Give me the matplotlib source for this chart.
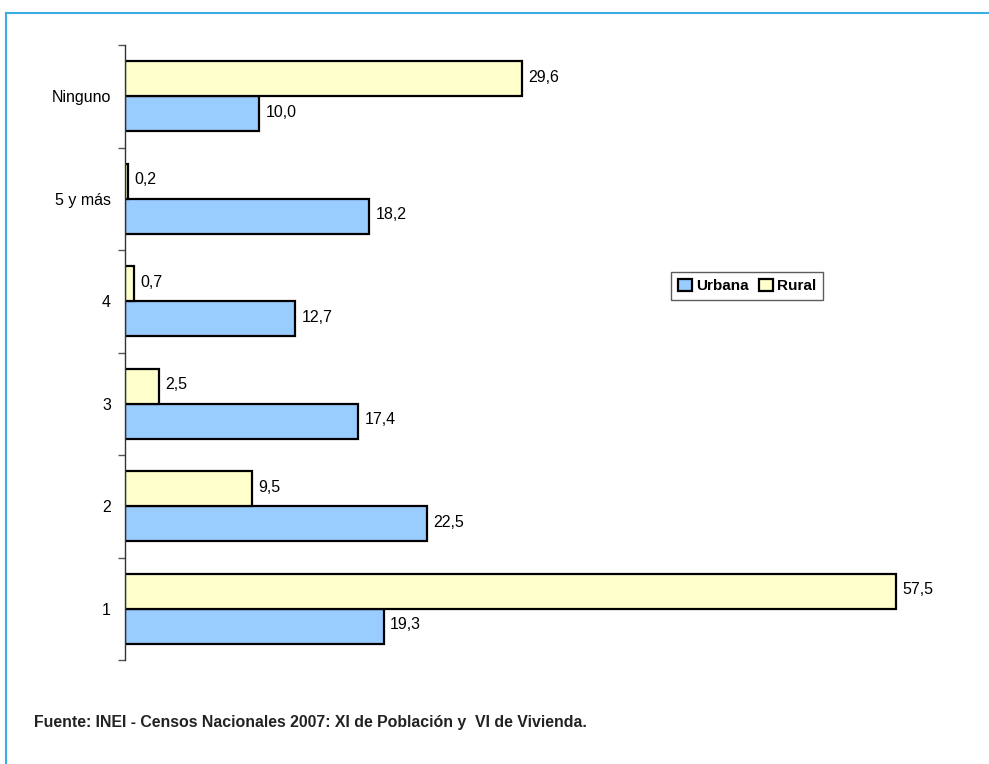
import matplotlib
matplotlib.use("Agg")
import matplotlib.pyplot as plt
import numpy as np
from matplotlib.lines import Line2D
from matplotlib.patches import Patch

# categories from bottom to top
categories = ["1", "2", "3", "4", "5 y más", "Ninguno"]
urbana = [19.3, 22.5, 17.4, 12.7, 18.2, 10.0]
rural = [57.5, 9.5, 2.5, 0.7, 0.2, 29.6]
source_note = "Fuente: INEI - Censos Nacionales 2007: XI de Población y  VI de Vivienda."

URBAN_COLOR = "#99CCFF"
RURAL_COLOR = "#FFFFCC"
BORDER_COLOR = "#3AAEE3"

plt.rcParams["font.family"] = ["Liberation Sans", "DejaVu Sans"]

fig = plt.figure(figsize=(9.89, 7.64), dpi=100)
ax = fig.add_axes([0.1264, 0.1361, 0.8136, 0.8049])

y = np.arange(len(categories))
h = 0.34
ax.barh(y - h / 2, urbana, height=h, color=URBAN_COLOR, edgecolor="black", linewidth=1.6)
ax.barh(y + h / 2, rural, height=h, color=RURAL_COLOR, edgecolor="black", linewidth=1.6)

for yi, u, r in zip(y, urbana, rural):
    ax.annotate(f"{u:.1f}".replace(".", ","), (u, yi - h / 2), xytext=(4.5, 1),
                textcoords="offset points", va="center", ha="left", fontsize=11.5)
    ax.annotate(f"{r:.1f}".replace(".", ","), (r, yi + h / 2), xytext=(4.5, 1),
                textcoords="offset points", va="center", ha="left", fontsize=11.5)

ax.set_xlim(0, 60)
ax.set_ylim(-0.5, len(categories) - 0.5)
ax.set_yticks(y)
ax.set_yticklabels(categories, fontsize=11.5)
ax.tick_params(axis="y", which="major", length=0, pad=10)
ax.set_yticks(np.arange(len(categories) + 1) - 0.5, minor=True)
ax.tick_params(axis="y", which="minor", length=5, width=1, color="#555555")
ax.set_xticks([])
for side in ["top", "right", "bottom"]:
    ax.spines[side].set_visible(False)
ax.spines["left"].set_color("#333333")
ax.spines["left"].set_linewidth(1.0)

handles = [Patch(facecolor=URBAN_COLOR, edgecolor="black", linewidth=1.6, label="Urbana"),
           Patch(facecolor=RURAL_COLOR, edgecolor="black", linewidth=1.6, label="Rural")]
leg = fig.legend(handles=handles, loc="center", bbox_to_anchor=(747 / 989, 1 - 286 / 764),
                 ncol=2, frameon=True, fancybox=False, handlelength=0.9, handleheight=0.9,
                 handletextpad=0.25, columnspacing=0.7, borderpad=0.45,
                 prop={"weight": "bold", "size": 11})
leg.get_frame().set_edgecolor("#333333")
leg.get_frame().set_linewidth(1.0)

fig.text(34 / 989, 1 - 723 / 764, source_note, fontsize=11.4, fontweight="bold",
         va="center", ha="left", color="#222222")

# blue frame (top and left)
fig.add_artist(Line2D([6 / 989, 1.0], [1 - 13 / 764, 1 - 13 / 764], color=BORDER_COLOR, linewidth=1.5))
fig.add_artist(Line2D([6 / 989, 6 / 989], [0, 1 - 13 / 764], color=BORDER_COLOR, linewidth=1.5))

fig.savefig("out.png", dpi=100)
